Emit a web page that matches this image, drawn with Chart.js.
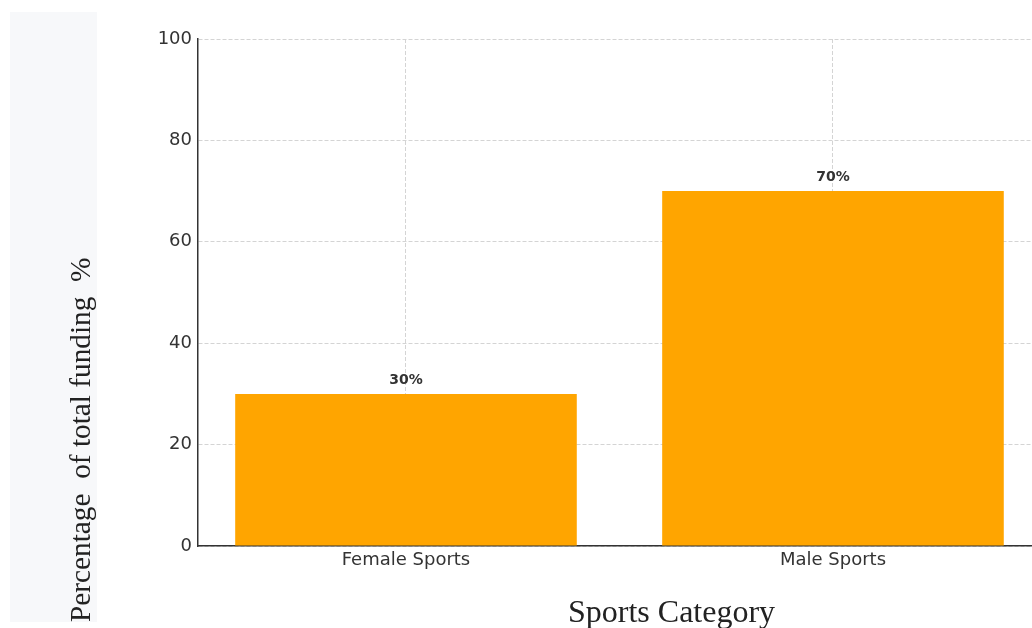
<!DOCTYPE html>
<html>
<head>
<meta charset="utf-8">
<script src="https://cdn.jsdelivr.net/npm/chart.js@4.4.1/dist/chart.umd.min.js"></script>
<style>
  html, body { margin: 0; padding: 0; background: #fff; overflow: hidden; }
</style>
</head>
<body>
<canvas id="funding" width="1032" height="628"></canvas>
<script>
// data
var categories = ['Female Sports', 'Male Sports'];
var funding = [30, 70];
var valueLabels = ['30%', '70%'];
var yTickValues = [0, 20, 40, 60, 80, 100];

var yTitle = 'Percentage  of total funding  %';
var xTitle = 'Sports Category';

// gray panel, axis titles and the value labels over the bars
var decorations = {
    id: 'decorations',
    beforeDraw: function(chart) {
        var ctx = chart.ctx;
        ctx.save();
        ctx.fillStyle = '#f7f8fa';
        ctx.fillRect(10, 12, 87, 610);
        ctx.restore();
    },
    afterDraw: function(chart) {
        var ctx = chart.ctx;
        var xs = chart.scales.x;
        var ys = chart.scales.y;
        ctx.save();

        ctx.fillStyle = '#333';
        ctx.font = 'bold 14px "DejaVu Sans"';
        ctx.textAlign = 'center';
        ctx.textBaseline = 'alphabetic';
        funding.forEach(function(v, i) {
            ctx.fillText(valueLabels[i], xs.getPixelForValue(i), ys.getPixelForValue(v) - 10);
        });

        ctx.fillStyle = '#222';
        ctx.font = '32px "Liberation Serif"';
        ctx.textAlign = 'left';
        ctx.fillText(xTitle, 568, 622);

        ctx.translate(90, 622);
        ctx.rotate(-Math.PI / 2);
        ctx.font = '29.3px "Liberation Serif"';
        ctx.fillText(yTitle, 0, 0);
        ctx.restore();
    }
};

var myChart = new Chart(document.getElementById('funding'), {
    type: 'bar',
    plugins: [decorations],
    data: {
        datasets: [{
            data: funding.map(function(v, i) { return { x: i, y: v }; }),
            backgroundColor: '#FFA500',
            borderWidth: 0,
            barPercentage: 1,
            categoryPercentage: 0.8
        }]
    },
    options: {
        responsive: false,
        animation: false,
        layout: { padding: { top: 39, left: 0, right: 0, bottom: 0 } },
        plugins: {
            legend: { display: false },
            tooltip: { enabled: false }
        },
        scales: {
            x: {
                type: 'linear',
                bounds: 'data',
                offset: false,
                min: -0.4871,
                max: 1.4661,
                afterBuildTicks: function(scale) {
                    scale.ticks = categories.map(function(c, i) { return { value: i }; });
                },
                afterFit: function(scale) { scale.height = 82; },
                ticks: {
                    autoSkip: false,
                    maxRotation: 0,
                    padding: 4,
                    color: '#333',
                    font: { family: 'DejaVu Sans', size: 18 },
                    callback: function(value) { return categories[value]; }
                },
                grid: { offset: false, color: '#d4d4d4', lineWidth: 1, drawTicks: false, borderDash: [4, 2] },
                border: { color: '#333', width: 1.5, dash: [4, 2] }
            },
            y: {
                min: 0,
                max: 100,
                afterBuildTicks: function(scale) {
                    scale.ticks = yTickValues.map(function(v) { return { value: v }; });
                },
                afterFit: function(scale) { scale.width = 198; },
                ticks: {
                    padding: 6,
                    color: '#333',
                    font: { family: 'DejaVu Sans', size: 18 }
                },
                grid: { color: '#d4d4d4', lineWidth: 1, drawTicks: false, borderDash: [4, 2] },
                border: { color: '#333', width: 1.5, dash: [4, 2] }
            }
        }
    }
});
</script>
</body>
</html>
